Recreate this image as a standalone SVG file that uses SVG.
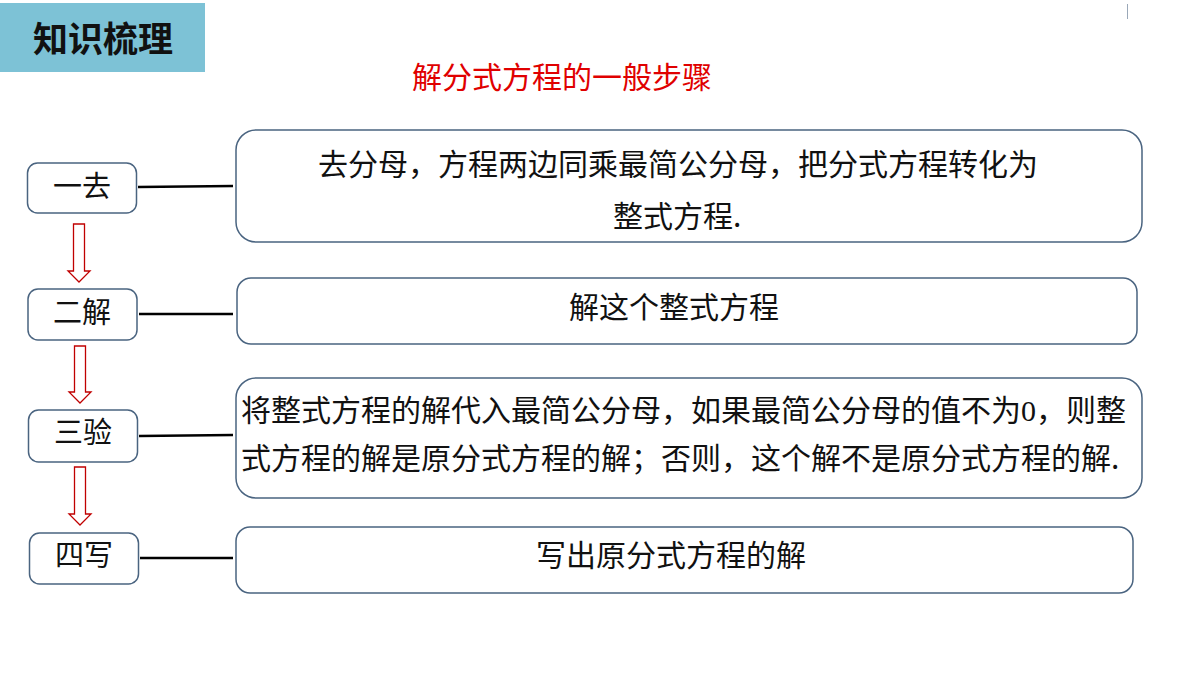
<svg xmlns="http://www.w3.org/2000/svg" width="1200" height="675" viewBox="0 0 1200 675">
<style>
text{font-family:"Noto Sans CJK SC","Noto Sans",sans-serif;fill:#111}
.big{fill:#fff;stroke:#4a6480;stroke-width:1.5}
.small{fill:#fff;stroke:#4a6480;stroke-width:1.5}
.link{stroke:#000;stroke-width:2.5;fill:none}
.arr{fill:#fff;stroke:#c00000;stroke-width:1.3}
.t30{font-size:30px}
.lab{font-size:29px;text-anchor:middle}
</style>
<rect width="1200" height="675" fill="#fff"/>
<line x1="1127.5" y1="4" x2="1127.5" y2="19" stroke="#9aa8b8" stroke-width="1"/>
<g id="header">
<rect x="0" y="3" width="205" height="69" fill="#7dc2d6"/>
<text x="33" y="52" style="font-size:35px;font-weight:bold" fill="#000">知识梳理</text>
</g>
<g id="title">
<text x="562" y="88" class="t30" text-anchor="middle" style="fill:#e00000">解分式方程的一般步骤</text>
</g>
<g id="connectors">
<line class="link" x1="138" y1="187" x2="233" y2="186"/>
<line class="link" x1="139" y1="314" x2="233" y2="314"/>
<line class="link" x1="139" y1="436" x2="233" y2="435"/>
<line class="link" x1="140" y1="558" x2="233" y2="558"/>
<polygon class="arr" points="73.5,224 84.5,224 84.5,271 90,271 79,282 68,271 73.5,271"/>
<polygon class="arr" points="74.5,346 85.5,346 85.5,392 91,392 80,403 69,392 74.5,392"/>
<polygon class="arr" points="74.5,467 85.5,467 85.5,514 91,514 80,525 69,514 74.5,514"/>
</g>
<g id="step1">
<rect class="small" x="27.5" y="163" width="109" height="50" rx="10"/>
<text x="82" y="197" class="lab">一去</text>
</g>
<g id="step2">
<rect class="small" x="28" y="289" width="109" height="51" rx="10"/>
<text x="82" y="323" class="lab">二解</text>
</g>
<g id="step3">
<rect class="small" x="28.5" y="410" width="109" height="52" rx="10"/>
<text x="83" y="443" class="lab">三验</text>
</g>
<g id="step4">
<rect class="small" x="29.5" y="533" width="109" height="51" rx="10"/>
<text x="84" y="566" class="lab">四写</text>
</g>
<g id="desc1">
<rect class="big" x="236" y="130" width="906" height="112" rx="20"/>
<text x="318" y="175" class="t30">去分母，方程两边同乘最简公分母，把分式方程转化为</text>
<text x="613" y="227" class="t30">整式方程.</text>
</g>
<g id="desc2">
<rect class="big" x="237" y="278" width="900" height="66" rx="14"/>
<text x="674" y="318" class="t30" text-anchor="middle">解这个整式方程</text>
</g>
<g id="desc3">
<rect class="big" x="236" y="378" width="906" height="120" rx="20"/>
<text x="241" y="421" class="t30">将整式方程的解代入最简公分母，如果最简公分母的值不为<tspan style="font-family:'Liberation Serif',serif">0</tspan>，则整</text>
<text x="241" y="469" class="t30">式方程的解是原分式方程的解；否则，这个解不是原分式方程的解.</text>
</g>
<g id="desc4">
<rect class="big" x="236" y="527" width="897" height="66" rx="14"/>
<text x="671" y="566" class="t30" text-anchor="middle">写出原分式方程的解</text>
</g>
</svg>
